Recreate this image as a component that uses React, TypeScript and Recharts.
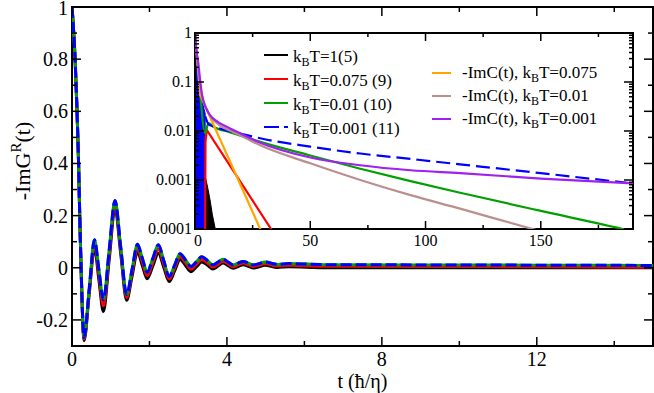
import React from 'react';
import { ComposedChart, Line, Area, XAxis, YAxis, ReferenceArea } from 'recharts';

const FF = { fontFamily: 'Liberation Serif' };

// ---------- main panel data ----------
const mainT = [0, 0.08, 0.13, 0.17, 0.2, 0.235, 0.27, 0.31, 0.445, 0.58, 0.695, 0.81, 0.96, 1.11, 1.26, 1.41, 1.55, 1.69, 1.815, 1.94, 2.085, 2.23, 2.37, 2.51, 2.65, 2.79, 2.93, 3.07, 3.21, 3.35, 3.5, 3.64, 3.77, 3.9, 4.03, 4.16, 4.29, 4.42, 4.55, 4.68, 4.83, 4.98, 5.3, 5.6, 6.5, 9, 12, 15];
const mainBlue = [1.0, 0.8, 0.6, 0.4, 0.2, 0.0, -0.17, -0.268, -0.08, 0.107, -0.008, -0.123, 0.067, 0.258, 0.077, -0.103, -0.007, 0.09, 0.037, -0.017, 0.035, 0.088, 0.027, -0.033, 0.01, 0.054, 0.03, 0.005, 0.023, 0.042, 0.027, 0.011, 0.022, 0.033, 0.022, 0.011, 0.018, 0.024, 0.018, 0.011, 0.016, 0.022, 0.013, 0.016, 0.012, 0.011, 0.01, 0.009];
const mainGreen = [1.0, 0.8, 0.6, 0.4, 0.2, 0.0, -0.17, -0.268, -0.08, 0.107, -0.008, -0.123, 0.067, 0.258, 0.077, -0.103, -0.007, 0.09, 0.037, -0.017, 0.035, 0.088, 0.027, -0.033, 0.01, 0.054, 0.03, 0.005, 0.023, 0.042, 0.027, 0.011, 0.022, 0.033, 0.022, 0.011, 0.018, 0.024, 0.018, 0.011, 0.016, 0.022, 0.013, 0.016, 0.012, 0.011, 0.01, 0.009];
const mainRed = [1.0, 0.8, 0.6, 0.4, 0.197, -0.003, -0.174, -0.274, -0.09, 0.091, -0.028, -0.146, 0.049, 0.243, 0.064, -0.114, -0.02, 0.075, 0.023, -0.03, 0.02, 0.072, 0.014, -0.043, -0.001, 0.043, 0.02, -0.005, 0.013, 0.032, 0.018, 0.003, 0.014, 0.025, 0.015, 0.004, 0.011, 0.018, 0.012, 0.005, 0.01, 0.016, 0.007, 0.01, 0.006, 0.005, 0.004, 0.002];
const mainBlack = [1.0, 0.8, 0.6, 0.4, 0.195, -0.006, -0.178, -0.28, -0.1, 0.075, -0.047, -0.168, 0.03, 0.228, 0.051, -0.125, -0.033, 0.06, 0.009, -0.042, 0.006, 0.056, 0.001, -0.053, -0.012, 0.032, 0.009, -0.015, 0.003, 0.022, 0.01, -0.005, 0.007, 0.018, 0.008, -0.002, 0.005, 0.012, 0.006, -0.001, 0.004, 0.01, 0.001, 0.004, 0.0005, 0, 0, 0];

const mainXTicks = [0, 2, 4, 6, 8, 10, 12, 14];
const mainXLabels = [0, 4, 8, 12];
const mainYTicks = [-0.2, -0.1, 0, 0.1, 0.2, 0.3, 0.4, 0.5, 0.6, 0.7, 0.8, 0.9, 1.0];
const mainYLabels = [-0.2, 0, 0.2, 0.4, 0.6, 0.8, 1.0];

// ---------- inset data ----------
const inBlackFillT = [0, 1, 2, 3, 4, 4.4, 5.5, 6.5, 7.5, 8.8];
const inBlackFillV = [1, 0.3, 0.05, 0.01, 0.0025, 0.0012, 0.0007, 0.0004, 0.0002, 0.0001];
const inRedT = [4.4, 4.55, 5.1, 33, 35];
const inRedV = [0.0001, 0.006, 0.0105, 0.0001, 0.00007];
const inGreenT = [0, 2, 4.4, 5.8, 8, 15, 28.3, 50, 71.7, 93.5, 115, 150, 185.5, 190];
const inGreenV = [1, 0.08, 0.009, 0.0145, 0.0122, 0.0095, 0.006, 0.00316, 0.0017, 0.00095, 0.00055, 0.000234, 0.0001, 0.000089];
const inBlueFillT = [0, 0.5, 1, 1.5, 2, 2.5, 3, 3.5, 4, 4.4, 4.45];
const inBlueFillV = [1, 0.5, 0.28, 0.16, 0.1, 0.065, 0.045, 0.034, 0.027, 0.023, 0.0001];
const inBlueT = [4.45, 6, 8, 12, 20, 28.3, 50, 71.7, 93.5, 115, 150, 190];
const inBlueV = [0.02, 0.0135, 0.0125, 0.0108, 0.0088, 0.0071, 0.0048, 0.00347, 0.00269, 0.00209, 0.00138, 0.00085];
const inOrangeT = [0, 1, 2.2, 28.3, 30];
const inOrangeV = [1, 0.3, 0.055, 0.0001, 0.000066];
const inBrownT = [0, 0.5, 1, 2, 3, 5, 7, 10, 15, 20, 28.3, 50, 71.7, 93.5, 115, 146.4, 150];
const inBrownV = [1, 0.45, 0.27, 0.11, 0.055, 0.028, 0.019, 0.0138, 0.0102, 0.008, 0.0051, 0.00219, 0.001, 0.00049, 0.00026, 0.0001, 0.00009];
const inPurpleT = [0, 0.3, 0.7, 1.4, 2.2, 2.9, 4, 5, 6.5, 10, 15.2, 20, 28.3, 50, 71.7, 93.5, 115, 150, 190];
const inPurpleV = [1, 0.6, 0.4, 0.25, 0.11, 0.06, 0.036, 0.028, 0.021, 0.0152, 0.0113, 0.0088, 0.00575, 0.00288, 0.002, 0.00158, 0.00138, 0.00107, 0.00085];

const inXTicks = [0, 25, 50, 75, 100, 125, 150, 175];
const inXLabels = [0, 50, 100, 150];
const inYDecades = [0.0001, 0.001, 0.01, 0.1, 1];
const inYTicks: number[] = [];
inYDecades.forEach((d, i) => {
  inYTicks.push(d);
  if (i < inYDecades.length - 1) for (let k = 2; k <= 9; k++) inYTicks.push(+(d * k).toPrecision(3));
});

const legendLeft = [
  { name: 'T=1(5)', color: '#000000', dash: undefined as string | undefined },
  { name: 'T=0.075 (9)', color: '#ff0000', dash: undefined },
  { name: 'T=0.01 (10)', color: '#00a000', dash: undefined },
  { name: 'T=0.001 (11)', color: '#0000ff', dash: '15 5' },
];
const legendRight = [
  { name: 'T=0.075', color: '#ffa500' },
  { name: 'T=0.01', color: '#bc8f8f' },
  { name: 'T=0.001', color: '#a020f0' },
];

// ---------- layout ----------
const W = 654, H = 393;
const M = { left: 72, top: 7, right: 653, bottom: 346 };
const IN = { left: 195, top: 33, right: 633, bottom: 229 };

const toPairs = (T: number[], V: number[]) => T.map((t, i) => ({ t, v: V[i] }));
const mainData = mainT.map((t, i) => ({ t, black: mainBlack[i], red: mainRed[i], green: mainGreen[i], blue: mainBlue[i] }));

const near = (a: number, list: number[]) => list.some((b) => Math.abs(a - b) < 1e-9);

const MainXTick = (p: any) => {
  const x = p.x; const v = p.payload.value;
  const major = near(v, mainXLabels);
  const len = major ? 9 : 5;
  return (
    <g>
      <line x1={x} x2={x} y1={M.bottom} y2={M.bottom - len} stroke="#000" strokeWidth={1.5} />
      <line x1={x} x2={x} y1={M.top} y2={M.top + len} stroke="#000" strokeWidth={1.5} />
      {major && <text x={x} y={M.bottom + 20} textAnchor="middle" fontSize={20} style={FF} fill="#000">{v}</text>}
    </g>
  );
};
const MainYTick = (p: any) => {
  const y = p.y; const v = p.payload.value;
  const major = near(v, mainYLabels);
  const len = major ? 9 : 5;
  const lab = Math.abs(v) < 1e-9 ? '0' : String(+v.toFixed(1));
  return (
    <g>
      <line x1={M.left} x2={M.left + len} y1={y} y2={y} stroke="#000" strokeWidth={1.5} />
      <line x1={M.right} x2={M.right - len} y1={y} y2={y} stroke="#000" strokeWidth={1.5} />
      {major && <text x={M.left - 4} y={y + (v === 1 ? 8 : 7)} textAnchor="end" fontSize={20} style={FF} fill="#000">{lab}</text>}
    </g>
  );
};
const InXTick = (p: any) => {
  const x = p.x; const v = p.payload.value;
  const major = near(v, inXLabels);
  const len = major ? 8 : 4;
  return (
    <g>
      <line x1={x} x2={x} y1={IN.bottom} y2={IN.bottom - len} stroke="#000" strokeWidth={1.5} />
      <line x1={x} x2={x} y1={IN.top} y2={IN.top + len} stroke="#000" strokeWidth={1.5} />
      {major && <text x={x + (v === 0 ? 3 : 0)} y={IN.bottom + 17} textAnchor="middle" fontSize={16} style={FF} fill="#000">{v}</text>}
    </g>
  );
};
const InYTick = (p: any) => {
  const y = p.y; const v = p.payload.value;
  const major = near(v, inYDecades);
  const len = major ? 9 : 4;
  return (
    <g>
      <line x1={IN.left} x2={IN.left + len} y1={y} y2={y} stroke="#000" strokeWidth={1.5} />
      <line x1={IN.right} x2={IN.right - len} y1={y} y2={y} stroke="#000" strokeWidth={1.5} />
      {major && <text x={IN.left - 3} y={y + 5} textAnchor="end" fontSize={16} style={FF} fill="#000">{String(v)}</text>}
    </g>
  );
};

const XTitle = () => (
  <text x={(M.left + M.right) / 2} y={388} textAnchor="middle" fontSize={20} style={FF} fill="#000">t (ħ/η)</text>
);
const YTitle = () => (
  <text transform={`translate(30, 161) rotate(-90)`} textAnchor="middle" fontSize={22} style={FF} fill="#000">
    <tspan>-ImG</tspan><tspan dy={-9} fontSize={15}>R</tspan><tspan dy={9}>(t)</tspan>
  </text>
);

const LegendSvg = () => (
  <svg width={W} height={H} style={{ position: 'absolute', left: 0, top: 0, pointerEvents: 'none' }}>
    {legendLeft.map((e, i) => {
      const y = 55 + i * 24;
      return (
        <g key={e.name}>
          <line x1={264} x2={288} y1={y} y2={y} stroke={e.color} strokeWidth={2} strokeDasharray={e.dash} />
          <text x={293} y={y + 7} fontSize={17} style={FF} fill="#000">k<tspan dy={4} fontSize={12}>B</tspan><tspan dy={-4}>{e.name}</tspan></text>
        </g>
      );
    })}
    {legendRight.map((e, i) => {
      const y = 73 + i * 23;
      return (
        <g key={e.name}>
          <line x1={432} x2={451} y1={y} y2={y} stroke={e.color} strokeWidth={2} />
          <text x={462} y={y + 5} fontSize={17} style={FF} fill="#000">-ImC(t), k<tspan dy={4} fontSize={12}>B</tspan><tspan dy={-4}>{e.name}</tspan></text>
        </g>
      );
    })}
  </svg>
);

export default function App() {
  return (
    <div style={{ position: 'absolute', left: 0, top: 0, width: W, height: H, background: '#fff' }}>
      <div style={{ position: 'absolute', left: 0, top: 0 }}>
        <ComposedChart width={W} height={H} data={mainData} margin={{ top: M.top, right: W - M.right, left: 0, bottom: 0 }}>
          <XAxis type="number" dataKey="t" domain={[0, 15]} ticks={mainXTicks} interval={0} tick={<MainXTick />} tickLine={false} axisLine={false} height={H - M.bottom} allowDataOverflow label={<XTitle />} />
          <YAxis type="number" domain={[-0.3, 1]} ticks={mainYTicks} interval={0} tick={<MainYTick />} tickLine={false} axisLine={false} width={M.left} allowDataOverflow label={<YTitle />} />
          <Line dataKey="black" type="monotone" stroke="#000000" strokeWidth={3} dot={false} isAnimationActive={false} />
          <Line dataKey="red" type="monotone" stroke="#ff0000" strokeWidth={3} dot={false} isAnimationActive={false} />
          <Line dataKey="green" type="monotone" stroke="#00a000" strokeWidth={3} dot={false} isAnimationActive={false} />
          <Line dataKey="blue" type="monotone" stroke="#0000ff" strokeWidth={3} strokeDasharray="11 4" dot={false} isAnimationActive={false} />
          <ReferenceArea x1={0} x2={15} y1={-0.3} y2={1} fill="none" stroke="#000" strokeWidth={2} ifOverflow="visible" />
        </ComposedChart>
      </div>
      <div style={{ position: 'absolute', left: 0, top: 0 }}>
        <ComposedChart width={W} height={H} margin={{ top: IN.top, right: W - IN.right, left: IN.left - 50, bottom: H - IN.bottom - 30 }}>
          <XAxis type="number" dataKey="t" domain={[0, 190]} ticks={inXTicks} interval={0} tick={<InXTick />} tickLine={false} axisLine={false} height={30} allowDataOverflow />
          <YAxis type="number" scale="log" domain={[0.0001, 1]} ticks={inYTicks} interval={0} tick={<InYTick />} tickLine={false} axisLine={false} width={50} allowDataOverflow />
          <Area data={toPairs(inBlackFillT, inBlackFillV)} dataKey="v" type="linear" baseValue="dataMin" stroke="#000" strokeWidth={1} fill="#000" fillOpacity={1} isAnimationActive={false} legendType="none" />
          <Line data={toPairs(inRedT, inRedV)} dataKey="v" type="linear" stroke="#ff0000" strokeWidth={2.2} dot={false} isAnimationActive={false} />
          <Line data={toPairs(inGreenT, inGreenV)} dataKey="v" type="monotone" stroke="#00a000" strokeWidth={2.2} dot={false} isAnimationActive={false} />
          <Area data={toPairs(inBlueFillT, inBlueFillV)} dataKey="v" type="linear" baseValue="dataMin" stroke="#0000ff" strokeWidth={1} fill="#0000ff" fillOpacity={1} isAnimationActive={false} legendType="none" />
          <Line data={toPairs(inBlueT, inBlueV)} dataKey="v" type="monotone" stroke="#0000ff" strokeWidth={2.2} strokeDasharray="14 6" dot={false} isAnimationActive={false} />
          <Line data={toPairs(inOrangeT, inOrangeV)} dataKey="v" type="linear" stroke="#ffa500" strokeWidth={2.2} dot={false} isAnimationActive={false} />
          <Line data={toPairs(inBrownT, inBrownV)} dataKey="v" type="monotone" stroke="#bc8f8f" strokeWidth={2.2} dot={false} isAnimationActive={false} />
          <Line data={toPairs(inPurpleT, inPurpleV)} dataKey="v" type="monotone" stroke="#a020f0" strokeWidth={2.2} dot={false} isAnimationActive={false} />
          <ReferenceArea x1={0} x2={190} y1={0.0001} y2={1} fill="none" stroke="#000" strokeWidth={2} ifOverflow="visible" />
        </ComposedChart>
      </div>
      <LegendSvg />
    </div>
  );
}
